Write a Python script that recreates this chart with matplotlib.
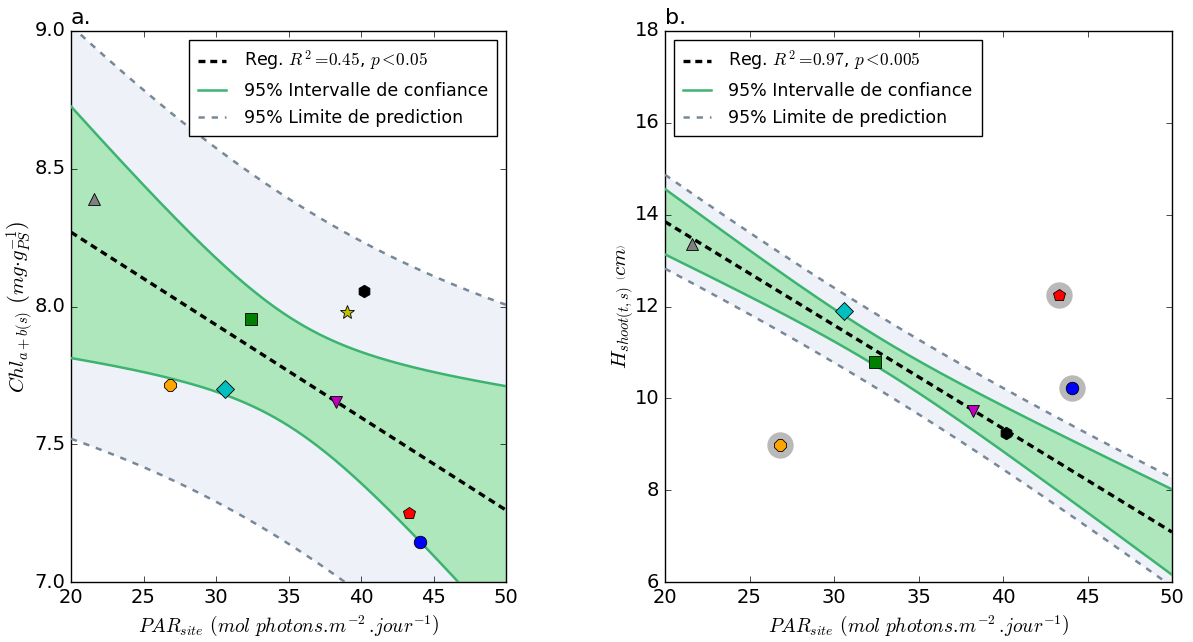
import numpy as np
import matplotlib
matplotlib.use("Agg")
import matplotlib.pyplot as plt

plt.style.use("classic")
plt.rcParams["figure.facecolor"] = "white"
plt.rcParams["savefig.facecolor"] = "white"
plt.rcParams["mathtext.fontset"] = "cm"
plt.rcParams["font.family"] = ["DejaVu Sans"]

# ---------------- data ----------------
par_a = [21.6, 26.8, 30.6, 32.4, 38.25, 39.0, 40.2, 43.3, 44.1]
chl = [8.39, 7.715, 7.70, 7.955, 7.655, 7.98, 8.055, 7.25, 7.145]
markers_a = ["^", "8", "D", "s", "v", "*", "h", "p", "o"]
colors_a = ["gray", "orange", "c", "g", "m", "y", "k", "r", "b"]

par_b = [21.6, 26.8, 30.6, 32.4, 38.25, 40.2, 43.3, 44.1]
h_shoot = [13.37, 8.98, 11.9, 10.79, 9.73, 9.24, 12.26, 10.23]
markers_b = ["^", "8", "D", "s", "v", "h", "p", "o"]
colors_b = ["gray", "orange", "c", "g", "m", "k", "r", "b"]
outlier_b = [False, True, False, False, False, False, True, True]

crit_a = 1.9
crit_b = 2.4

label_a = r"Reg. $R^2 =\!0.45$, $p <\!0.05$"
label_b = r"Reg. $R^2 =\!0.97$, $p <\!0.005$"

ci_fill = "#aee7bb"
ci_line = "mediumseagreen"
pi_fill = "#eef2f8"
pi_line = "lightslategray"


def fit_bands(x, y, xs, crit):
    x = np.asarray(x, float)
    y = np.asarray(y, float)
    n = len(x)
    slope, intercept = np.polyfit(x, y, 1)
    resid = y - (slope * x + intercept)
    s = np.sqrt(np.sum(resid ** 2) / (n - 2))
    sxx = np.sum((x - x.mean()) ** 2)
    yhat = slope * xs + intercept
    ci = crit * s * np.sqrt(1.0 / n + (xs - x.mean()) ** 2 / sxx)
    pi = crit * s * np.sqrt(1 + 1.0 / n + (xs - x.mean()) ** 2 / sxx)
    return yhat, ci, pi


def draw_panel(ax, x, y, mk, cl, use, crit, reg_label, xlim, ylim, loc):
    xs = np.linspace(xlim[0], xlim[1], 300)
    xf = [xi for xi, u in zip(x, use) if u]
    yf = [yi for yi, u in zip(y, use) if u]
    yhat, ci, pi = fit_bands(xf, yf, xs, crit)
    ax.fill_between(xs, yhat - pi, yhat + pi, color=pi_fill, lw=0, zorder=1)
    ax.fill_between(xs, yhat - ci, yhat + ci, color=ci_fill, lw=0, zorder=2)
    ax.plot(xs, yhat, "k--", lw=2.4, dashes=(5, 3.5), label=reg_label, zorder=3)
    ax.plot(xs, yhat + ci, color=ci_line, lw=1.8, label="95% Intervalle de confiance", zorder=3)
    ax.plot(xs, yhat - ci, color=ci_line, lw=1.8, zorder=3)
    ax.plot(xs, yhat + pi, "--", color=pi_line, lw=1.8, dashes=(4.5, 5), label="95% Limite de prediction", zorder=3)
    ax.plot(xs, yhat - pi, "--", color=pi_line, lw=1.8, dashes=(4.5, 5), zorder=3)
    for xi, yi, m, c, u in zip(x, y, mk, cl, use):
        if not u:
            ax.plot(xi, yi, "o", ms=19, color="gray", alpha=0.55, mec="none", zorder=4)
        ms = 10 if m == "*" else 9
        ax.plot(xi, yi, m, ms=ms, color=c, mec="k", mew=0.6, zorder=5)
    ax.set_xlim(*xlim)
    ax.set_ylim(*ylim)
    leg = ax.legend(loc=loc, fontsize=12.5, numpoints=1, handlelength=1.6, handletextpad=1.0,
                    borderpad=0.55, labelspacing=0.5, borderaxespad=0.5, fancybox=False)
    leg.get_frame().set_edgecolor("k")
    ax.set_xlabel(r"$PAR_{site}$ $\left(mol\ photons{.}\!m^{-2}\,{.}\!jour^{-1}\right)$", fontsize=14)
    ax.tick_params(labelsize=14)


fig = plt.figure(figsize=(11.93, 6.42), dpi=100)
ax1 = fig.add_axes([71 / 1193, 1 - 582 / 642, 435 / 1193, 551 / 642])
ax2 = fig.add_axes([665 / 1193, 1 - 582 / 642, 507 / 1193, 551 / 642])

draw_panel(ax1, par_a, chl, markers_a, colors_a, [True] * len(par_a), crit_a, label_a,
           (20, 50), (7.0, 9.0), "upper right")
ax1.set_yticks([7.0, 7.5, 8.0, 8.5, 9.0])
ax1.set_ylabel(r"$Chl_{a+b(s)}$ $\left(mg{\cdot}g_{PS}^{-1}\right)$", fontsize=15, labelpad=-1)

draw_panel(ax2, par_b, h_shoot, markers_b, colors_b, [not o for o in outlier_b], crit_b, label_b,
           (20, 50), (6, 18), "upper left")
ax2.set_yticks([6, 8, 10, 12, 14, 16, 18])
ax2.set_ylabel(r"$H_{shoot(t,s)}$ $\left(cm\right)$", fontsize=15, labelpad=-1)

ax1.text(0.0, 1.005, "a.", transform=ax1.transAxes, fontsize=16, ha="left", va="bottom")
ax2.text(0.0, 1.005, "b.", transform=ax2.transAxes, fontsize=16, ha="left", va="bottom")

fig.savefig("out.png", dpi=100)
